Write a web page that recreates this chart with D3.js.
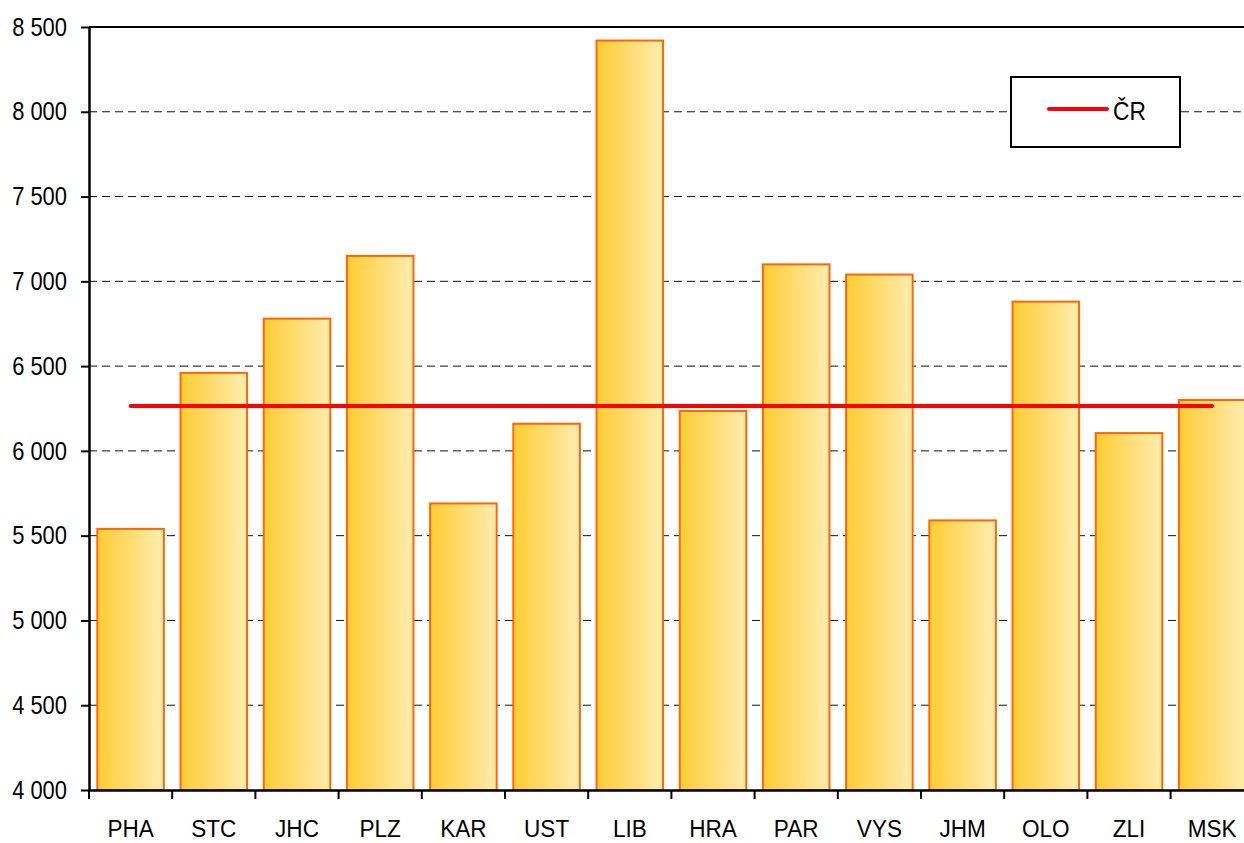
<!DOCTYPE html>
<html>
<head>
<meta charset="utf-8">
<script src="https://cdn.jsdelivr.net/npm/d3@7"></script>
<style>
  body { margin: 0; background: #fff; }
  svg { display: block; font-family: "Liberation Sans", Arial, sans-serif; }
</style>
</head>
<body>
<div id="container"></div>
<script>
const regions = ["PHA", "STC", "JHC", "PLZ", "KAR", "UST", "LIB", "HRA", "PAR", "VYS", "JHM", "OLO", "ZLI", "MSK"];
const values = [5540, 6460, 6780, 7150, 5690, 6160, 8420, 6235, 7100, 7040, 5590, 6880, 6105, 6300];
const crValue = 6265;
const yTicks = [4000, 4500, 5000, 5500, 6000, 6500, 7000, 7500, 8000, 8500];

const width = 1244, height = 843;
const marginLeft = 89, marginTop = 27, marginBottom = 53;
const plotRight = marginLeft + 83.2 * regions.length;

const fmt = d => d3.format(",")(d).replace(",", " ");

const x = d3.scaleBand()
    .domain(regions)
    .range([marginLeft, plotRight])
    .paddingInner(0.2)
    .paddingOuter(0.1);

const y = d3.scaleLinear()
    .domain([4000, 8500])
    .range([height - marginBottom, marginTop]);

const svg = d3.select("#container").append("svg")
    .attr("width", width)
    .attr("height", height);

const defs = svg.append("defs");
const grad = defs.append("linearGradient").attr("id", "barGrad")
    .attr("x1", "0%").attr("x2", "100%").attr("y1", "0%").attr("y2", "0%");
grad.append("stop").attr("offset", "0%").attr("stop-color", "#FFCC33");
grad.append("stop").attr("offset", "100%").attr("stop-color", "#FFEDAF");

// gridlines
svg.append("g")
  .selectAll("line")
  .data(yTicks.filter(d => d > 4000 && d < 8500))
  .join("line")
    .attr("x1", marginLeft).attr("x2", plotRight)
    .attr("y1", d => y(d)).attr("y2", d => y(d))
    .attr("stroke", "#111")
    .attr("stroke-width", 1)
    .attr("stroke-dasharray", "8,5");

// top border
svg.append("line")
    .attr("x1", marginLeft).attr("x2", plotRight)
    .attr("y1", y(8500)).attr("y2", y(8500))
    .attr("stroke", "#000").attr("stroke-width", 2);

// bars
svg.append("g")
  .selectAll("rect")
  .data(regions.map((r, i) => ({r, v: values[i]})))
  .join("rect")
    .attr("x", d => x(d.r))
    .attr("y", d => y(d.v))
    .attr("width", x.bandwidth())
    .attr("height", d => y(4000) - y(d.v))
    .attr("fill", "url(#barGrad)")
    .attr("stroke", "#FF6600")
    .attr("stroke-width", 2);

// CR line
svg.append("line")
    .attr("x1", x(regions[0]) + x.bandwidth() / 2)
    .attr("x2", x(regions[regions.length - 1]) + x.bandwidth() / 2)
    .attr("y1", y(crValue)).attr("y2", y(crValue))
    .attr("stroke", "#FF0000")
    .attr("stroke-width", 4)
    .attr("stroke-linecap", "round");

// y axis
const yAxis = svg.append("g")
    .attr("transform", `translate(${marginLeft},0)`)
    .call(d3.axisLeft(y).tickValues(yTicks).tickFormat(fmt).tickSize(8).tickPadding(14).tickSizeOuter(0));
yAxis.select(".domain").attr("stroke", "#000").attr("stroke-width", 2.5);
yAxis.selectAll(".tick line").attr("stroke", "#000").attr("stroke-width", 2);
yAxis.selectAll("text")
    .attr("font-size", 25.5).attr("fill", "#000")
    .attr("x", 0)
    .attr("transform", "translate(-22,0) scale(0.86,1)");

// x axis
const xAxis = svg.append("g")
    .attr("transform", `translate(0,${y(4000)})`)
    .call(d3.axisBottom(x).tickSize(0).tickPadding(30).tickSizeOuter(0));
xAxis.select(".domain").attr("stroke", "#000").attr("stroke-width", 2.5);
xAxis.selectAll("text")
    .attr("font-size", 24).attr("fill", "#000")
    .attr("transform", "scale(0.94,1)");

// x ticks at band boundaries
const step = x.step();
svg.append("g")
  .selectAll("line")
  .data(d3.range(regions.length + 1))
  .join("line")
    .attr("x1", i => marginLeft + i * step)
    .attr("x2", i => marginLeft + i * step)
    .attr("y1", y(4000)).attr("y2", y(4000) + 9)
    .attr("stroke", "#000").attr("stroke-width", 2);

// legend
const lg = svg.append("g").attr("transform", "translate(1011,77)");
lg.append("rect")
    .attr("width", 169).attr("height", 70)
    .attr("fill", "#fff").attr("stroke", "#000").attr("stroke-width", 2);
lg.append("line")
    .attr("x1", 38).attr("x2", 96).attr("y1", 32).attr("y2", 32)
    .attr("stroke", "#FF0000").attr("stroke-width", 4).attr("stroke-linecap", "round");
lg.append("text")
    .attr("transform", "translate(102,43) scale(0.91,1)")
    .attr("font-size", 25)
    .text("ČR");
</script>
</body>
</html>
